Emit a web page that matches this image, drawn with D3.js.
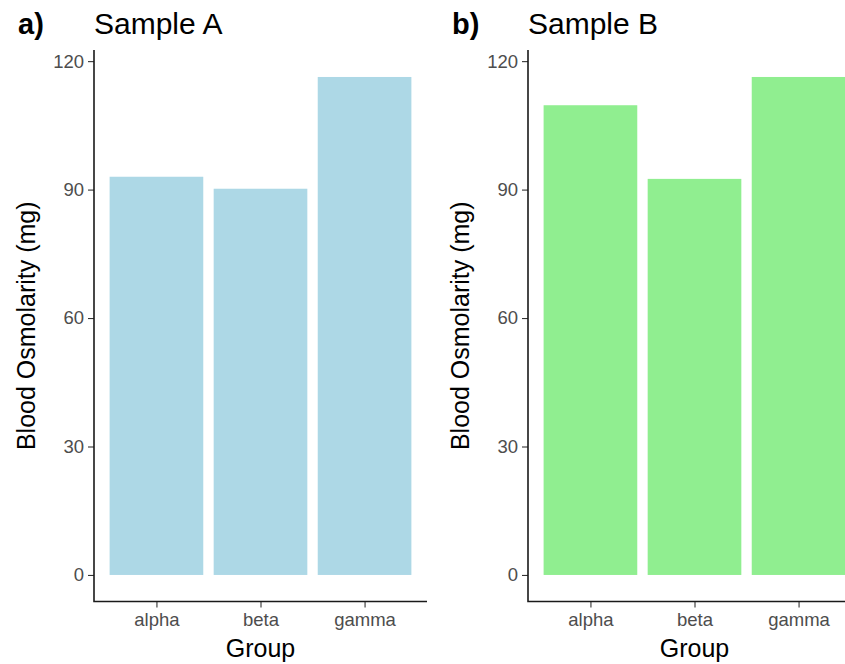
<!DOCTYPE html>
<html>
<head>
<meta charset="utf-8">
<script src="https://cdn.jsdelivr.net/npm/d3@7"></script>
<style>
	body { margin: 0; background: #fff; }
	svg { display: block; font-family: "Liberation Sans", Arial, sans-serif; }
</style>
</head>
<body>
<svg id="chart" width="845" height="664"></svg>
<script>
// the two samples, same groups
const groups = ['alpha', 'beta', 'gamma'];
const sampleA = [93.0, 90.2, 116.3];
const sampleB = [109.7, 92.5, 116.3];
const yTicks = [0, 30, 60, 90, 120];
const panelTitles = ['Sample A', 'Sample B'];
const panelTags = ['a)', 'b)'];
const panelColors = ['#add8e6', '#90ee90'];

// each panel is the same size, b is shifted right (and runs off the edge)
let marg = { top: 50, left: 94, width: 333, height: 551.5 };
let panelShift = 434;

const svg = d3.select('#chart');

function styleTicks(sel) {
	sel.select('.domain').remove();
	sel.selectAll('.tick line').attr('stroke', '#333').attr('stroke-width', 1.1);
	sel.selectAll('.tick text').attr('fill', '#4d4d4d')
		.style('font-size', '18.5px')
		.style('font-family', '"Liberation Sans", Arial, sans-serif');
}

function drawPanel(vals, idx) {
	let ox = marg.left + idx * panelShift;
	let g = svg.append('g').attr('transform', 'translate(' + ox + ',0)');

	// ggplot style discrete expansion: 0.6 each side, bars 0.9 wide
	const x = d3.scalePoint()
		.domain(groups)
		.range([0, marg.width])
		.padding(0.6);
	let barW = x.step() * 0.9;

	const y = d3.scaleLinear()
		.domain([-6.2, 122.6])
		.range([marg.top + marg.height, marg.top]);

	g.selectAll('rect.bar')
		.data(vals)
		.enter()
		.append('rect')
		.attr('class', 'bar')
		.attr('x', (d, i) => x(groups[i]) - barW / 2)
		.attr('y', d => y(d))
		.attr('width', barW)
		.attr('height', d => y(0) - y(d))
		.attr('fill', panelColors[idx]);

	// y axis
	const yAxis = d3.axisLeft(y).tickValues(yTicks).tickSize(6).tickPadding(4);
	g.append('g').call(yAxis).call(styleTicks);

	// x axis
	const xAxis = d3.axisBottom(x).tickSize(6).tickPadding(5);
	g.append('g')
		.attr('transform', 'translate(0,' + (marg.top + marg.height) + ')')
		.call(xAxis)
		.call(styleTicks);

	// axis lines (drawn over ticks)
	g.append('path')
		.attr('d', 'M0,' + marg.top + 'V' + (marg.top + marg.height) + 'H' + marg.width)
		.attr('fill', 'none')
		.attr('stroke', '#1a1a1a')
		.attr('stroke-width', 1.6);

	// axis titles
	g.append('text')
		.attr('x', marg.width / 2)
		.attr('y', 657)
		.attr('text-anchor', 'middle')
		.style('font-size', '25px')
		.attr('fill', '#000')
		.text('Group');

	g.append('text')
		.attr('transform', 'translate(' + (-59) + ',' + (marg.top + marg.height / 2) + ') rotate(-90)')
		.attr('text-anchor', 'middle')
		.style('font-size', '25px')
		.attr('fill', '#000')
		.text('Blood Osmolarity (mg)');

	// title + tag
	g.append('text')
		.attr('x', 0)
		.attr('y', 34)
		.style('font-size', '30px')
		.attr('fill', '#000')
		.text(panelTitles[idx]);

	g.append('text')
		.attr('x', -76)
		.attr('y', 34)
		.style('font-size', '29px')
		.style('font-weight', 'bold')
		.attr('fill', '#000')
		.text(panelTags[idx]);
}

drawPanel(sampleA, 0);
drawPanel(sampleB, 1);
</script>
</body>
</html>
